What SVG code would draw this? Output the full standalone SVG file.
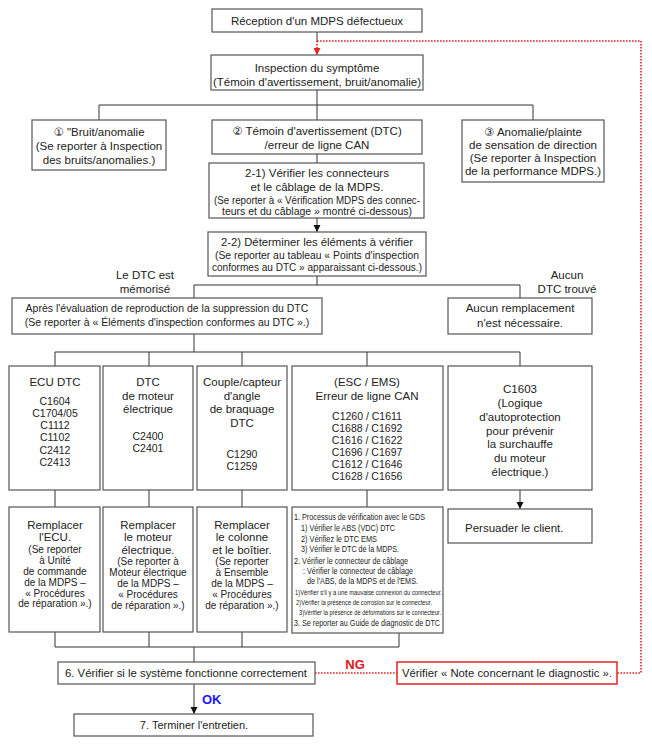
<svg xmlns="http://www.w3.org/2000/svg" width="652" height="746" viewBox="0 0 652 746">
<defs>
<style>
.b{fill:#fff;stroke:#555;stroke-width:1.2}
.rb{fill:#fff;stroke:#e52222;stroke-width:1.5}
.l{fill:none;stroke:#333;stroke-width:1}
.rd{fill:none;stroke:#e52222;stroke-width:1.6;stroke-dasharray:1.6 1.4}
text{font-family:"Liberation Sans","DejaVu Sans",Arial,sans-serif;fill:#222;font-size:11.5px;text-anchor:middle}
.s{font-size:10px}
.m{font-size:10.5px}
.t{font-size:9.5px;text-anchor:start}
.tt{font-size:7.5px;text-anchor:start}
.lt{text-anchor:start}
.ng{fill:#e8141c;font-weight:bold;font-size:13px}
.ok{fill:#1a1aff;font-weight:bold;font-size:13px;text-anchor:start}
</style>
<marker id="a" markerWidth="8" markerHeight="8" refX="7" refY="3.5" orient="auto" markerUnits="userSpaceOnUse"><path d="M0,0 L7,3.5 L0,7 z" fill="#111"/></marker>
<marker id="ar" markerWidth="8" markerHeight="8" refX="7" refY="3.5" orient="auto" markerUnits="userSpaceOnUse"><path d="M0,0 L7,3.5 L0,7 z" fill="#e52222"/></marker>
</defs>
<rect width="652" height="746" fill="#fff"/>

<g id="connectors">
<path class="l" d="M317,32 V41"/>
<path class="rd" d="M317,41 V55" marker-end="url(#ar)"/>
<path class="rd" d="M317,41 H641 V673 H617"/>
<path class="l" d="M317,90 V105 M99,105 H533 M99,105 V120 M317,105 V120 M533,105 V120"/>
<path class="l" d="M317,154 V163"/>
<path class="l" d="M317,218 V232" marker-end="url(#a)"/>
<path class="l" d="M317,276 V285 M194,285 H520 M194,285 V298 M520,285 V298"/>
<path class="l" d="M194,334 V352 M55,352 H520 M55,352 V366 M149,352 V366 M242,352 V366 M367,352 V366 M520,352 V366"/>
<path class="l" d="M55,490 V507 M149,490 V507 M242,490 V507 M367,490 V507 M520,490 V509" marker-end="url(#a)"/>
<path class="l" d="M55,632 V647 M149,632 V647 M242,632 V647 M399,633 V647 M55,647 H399 M194,647 V662"/>
<path class="rd" d="M315,673 H397"/>
<path class="l" d="M194,684 V714" marker-end="url(#a)"/>
<text class="ng" x="355" y="669">NG</text>
<text class="ok" x="202" y="704">OK</text>
</g>

<g id="n1"><rect class="b" x="212" y="9" width="210" height="23"/><text x="317" y="25">Réception d'un MDPS défectueux</text></g>

<g id="n2"><rect class="b" x="211" y="55" width="212" height="35"/><text x="317" y="72">Inspection du symptôme</text><text x="317" y="86">(Témoin d'avertissement, bruit/anomalie)</text></g>

<g id="n3"><rect class="b" x="32" y="120" width="134" height="50"/><text x="99" y="136">① "Bruit/anomalie</text><text x="99" y="150">(Se reporter à Inspection</text><text x="99" y="164">des bruits/anomalies.)</text></g>

<g id="n4"><rect class="b" x="212" y="120" width="210" height="34"/><text x="317" y="135">② Témoin d'avertissement (DTC)</text><text x="317" y="149">/erreur de ligne CAN</text></g>

<g id="n5"><rect class="b" x="462" y="120" width="142" height="62"/><text x="533" y="136">③ Anomalie/plainte</text><text x="533" y="149">de sensation de direction</text><text x="533" y="162">(Se reporter à Inspection</text><text x="533" y="175">de la performance MDPS.)</text></g>

<g id="n6"><rect class="b" x="209" y="163" width="215" height="55"/><text x="317" y="177">2-1) Vérifier les connecteurs</text><text x="317" y="191">et le câblage de la MDPS.</text><text class="s" x="317" y="204" textLength="206" lengthAdjust="spacingAndGlyphs">(Se reporter à « Vérification MDPS des connec-</text><text class="s" x="317" y="215" textLength="190" lengthAdjust="spacingAndGlyphs">teurs et du câblage » montré ci-dessous)</text></g>

<g id="n7"><rect class="b" x="208" y="232" width="218" height="44"/><text x="317" y="246" textLength="192" lengthAdjust="spacingAndGlyphs">2-2) Déterminer les éléments à vérifier</text><text class="s" x="317" y="259" textLength="204" lengthAdjust="spacingAndGlyphs">(Se reporter au tableau « Points d'inspection</text><text class="s" x="317" y="271" textLength="210" lengthAdjust="spacingAndGlyphs">conformes au DTC » apparaissant ci-dessous.)</text></g>

<g id="lbl1"><text x="145" y="279">Le DTC est</text><text x="145" y="293">mémorisé</text></g>
<g id="lbl2"><text x="567" y="279">Aucun</text><text x="567" y="293">DTC trouvé</text></g>

<g id="n8"><rect class="b" x="12" y="298" width="310" height="36"/><text class="m" x="167" y="312">Après l'évaluation de reproduction de la suppression du DTC</text><text class="m" x="167" y="326">(Se reporter à « Éléments d'inspection conformes au DTC ».)</text></g>

<g id="n9"><rect class="b" x="448" y="298" width="144" height="36"/><text x="520" y="312">Aucun remplacement</text><text x="520" y="327">n'est nécessaire.</text></g>

<g id="c1"><rect class="b" x="9" y="366" width="91" height="124"/><text x="55" y="386">ECU DTC</text><text class="m" x="55" y="405">C1604</text><text class="m" x="55" y="417">C1704/05</text><text class="m" x="55" y="429">C1112</text><text class="m" x="55" y="441">C1102</text><text class="m" x="55" y="454">C2412</text><text class="m" x="55" y="466">C2413</text></g>

<g id="c2"><rect class="b" x="103" y="366" width="90" height="124"/><text x="148" y="386">DTC</text><text x="148" y="400">de moteur</text><text x="148" y="413">électrique</text><text class="m" x="148" y="440">C2400</text><text class="m" x="148" y="452">C2401</text></g>

<g id="c3"><rect class="b" x="197" y="366" width="90" height="124"/><text x="242" y="386">Couple/capteur</text><text x="242" y="400">d'angle</text><text x="242" y="413">de braquage</text><text x="242" y="427">DTC</text><text class="m" x="242" y="458">C1290</text><text class="m" x="242" y="470">C1259</text></g>

<g id="c4"><rect class="b" x="292" y="366" width="151" height="124"/><text x="367" y="386">(ESC / EMS)</text><text x="367" y="400">Erreur de ligne CAN</text><text class="m" x="367" y="420">C1260 / C1611</text><text class="m" x="367" y="432">C1688 / C1692</text><text class="m" x="367" y="444">C1616 / C1622</text><text class="m" x="367" y="456">C1696 / C1697</text><text class="m" x="367" y="468">C1612 / C1646</text><text class="m" x="367" y="480">C1628 / C1656</text></g>

<g id="c5"><rect class="b" x="448" y="366" width="144" height="124"/><text x="520" y="393">C1603</text><text x="520" y="407">(Logique</text><text x="520" y="421">d'autoprotection</text><text x="520" y="435">pour prévenir</text><text x="520" y="448">la surchauffe</text><text x="520" y="462">du moteur</text><text x="520" y="476">électrique.)</text></g>

<g id="r1"><rect class="b" x="9" y="507" width="91" height="125"/><text x="55" y="529">Remplacer</text><text x="55" y="541">l'ECU.</text><text class="s" x="55" y="553">(Se reporter</text><text class="s" x="55" y="564">à Unité</text><text class="s" x="55" y="575">de commande</text><text class="s" x="55" y="586">de la MDPS –</text><text class="s" x="55" y="597">« Procédures</text><text class="s" x="55" y="607">de réparation ».)</text></g>

<g id="r2"><rect class="b" x="103" y="507" width="90" height="125"/><text x="148" y="529">Remplacer</text><text x="148" y="541">le moteur</text><text x="148" y="554">électrique.</text><text class="s" x="148" y="565">(Se reporter à</text><text class="s" x="148" y="576">Moteur électrique</text><text class="s" x="148" y="587">de la MDPS –</text><text class="s" x="148" y="598">« Procédures</text><text class="s" x="148" y="609">de réparation ».)</text></g>

<g id="r3"><rect class="b" x="197" y="507" width="90" height="125"/><text x="242" y="529">Remplacer</text><text x="242" y="541">le colonne</text><text x="242" y="554">et le boîtier.</text><text class="s" x="242" y="565">(Se reporter</text><text class="s" x="242" y="576">à Ensemble</text><text class="s" x="242" y="587">de la MDPS –</text><text class="s" x="242" y="598">« Procédures</text><text class="s" x="242" y="609">de réparation ».)</text></g>

<g id="r4"><rect class="b" x="292" y="507" width="151" height="126"/>
<text class="t" x="294" y="520" textLength="131" lengthAdjust="spacingAndGlyphs">1. Processus de vérification avec le GDS</text>
<text class="t" x="301" y="531" textLength="94" lengthAdjust="spacingAndGlyphs">1) Vérifier le ABS (VDC) DTC</text>
<text class="t" x="301" y="542" textLength="76" lengthAdjust="spacingAndGlyphs">2) Vérifiez le DTC EMS</text>
<text class="t" x="301" y="552" textLength="98" lengthAdjust="spacingAndGlyphs">3) Vérifier le DTC de la MDPS.</text>
<text class="t" x="294" y="564" textLength="114" lengthAdjust="spacingAndGlyphs">2. Vérifier le connecteur de câblage</text>
<text class="t" x="303" y="574" textLength="110" lengthAdjust="spacingAndGlyphs">: Vérifier le connecteur de câblage</text>
<text class="t" x="307" y="584" textLength="111" lengthAdjust="spacingAndGlyphs">de l'ABS, de la MDPS et de l'EMS.</text>
<text class="tt" x="295" y="595" textLength="147" lengthAdjust="spacingAndGlyphs">1)Vérifier s'il y a une mauvaise connexion du connecteur.</text>
<text class="tt" x="296" y="605" textLength="136" lengthAdjust="spacingAndGlyphs">2)Vérifier la présence de corrosion sur le connecteur.</text>
<text class="tt" x="299" y="615" textLength="142" lengthAdjust="spacingAndGlyphs">3)Vérifier la présence de déformations sur le connecteur.</text>
<text class="t" x="294" y="626" textLength="146" lengthAdjust="spacingAndGlyphs">3. Se reporter au Guide de diagnostic de DTC</text>
</g>

<g id="r5"><rect class="b" x="448" y="509" width="144" height="34"/><text class="lt" x="465" y="532">Persuader le client.</text></g>

<g id="n10"><rect class="b" x="58" y="662" width="257" height="22"/><text x="186" y="677" style="font-size:11px" textLength="242" lengthAdjust="spacingAndGlyphs">6. Vérifier si le système fonctionne correctement</text></g>

<g id="n11"><rect class="rb" x="397" y="662" width="220" height="22"/><text x="507" y="677" style="font-size:11px" textLength="210" lengthAdjust="spacingAndGlyphs">Vérifier « Note concernant le diagnostic ».</text></g>

<g id="n12"><rect class="b" x="74" y="714" width="239" height="22"/><text x="194" y="729" style="font-size:11px">7. Terminer l'entretien.</text></g>
</svg>
